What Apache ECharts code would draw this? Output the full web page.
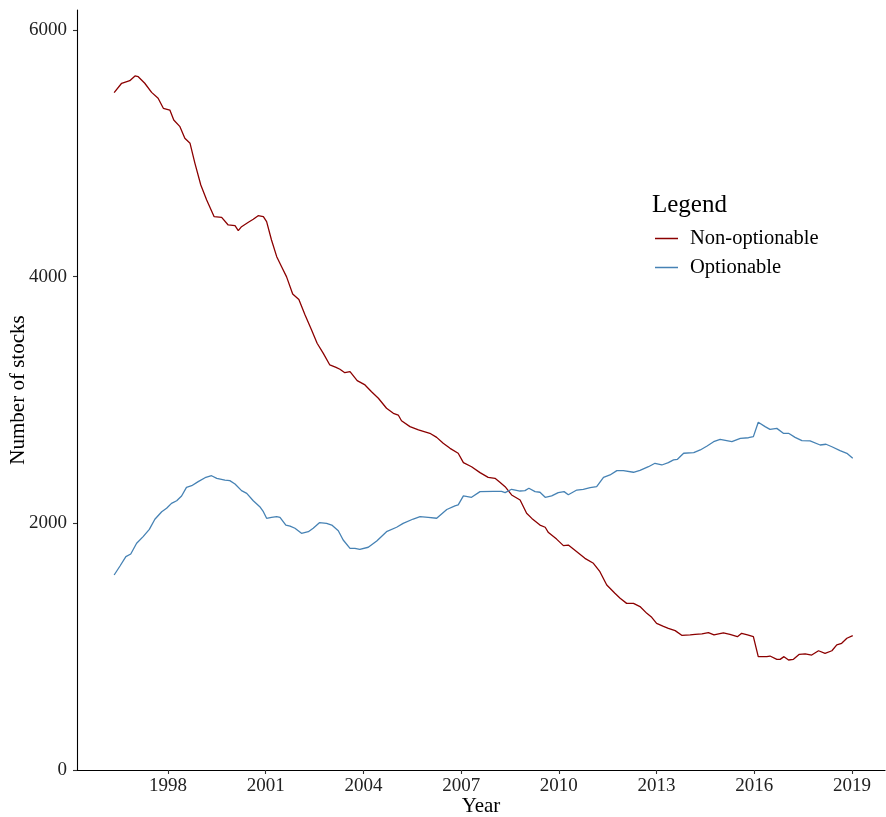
<!DOCTYPE html>
<html>
<head>
<meta charset="utf-8">
<script src="https://cdn.jsdelivr.net/npm/echarts@6/dist/echarts.min.js"></script>
<style>
  html, body { margin: 0; padding: 0; background: #fff; }
  #chart { width: 886px; height: 817px; }
</style>
</head>
<body>
<div id="chart"></div>
<script>
// Stock counts over time, split by whether the stock has listed options.
const nonOptYears = [
  1996.35, 1996.58, 1996.83, 1996.99, 1997.09, 1997.29, 1997.50, 1997.70, 1997.86, 1998.06,
  1998.18, 1998.37, 1998.52, 1998.68, 1998.83, 1999.01, 1999.19, 1999.42, 1999.65, 1999.85,
  2000.06, 2000.16, 2000.26, 2000.47, 2000.62, 2000.77, 2000.93, 2001.03, 2001.18, 2001.34,
  2001.49, 2001.64, 2001.83, 2002.02, 2002.21, 2002.41, 2002.58, 2002.77, 2002.97, 2003.16,
  2003.28, 2003.43, 2003.59, 2003.81, 2004.05, 2004.25, 2004.46, 2004.71, 2004.92, 2005.07,
  2005.17, 2005.43, 2005.69, 2006.04, 2006.25, 2006.45, 2006.66, 2006.91, 2007.07, 2007.32,
  2007.58, 2007.83, 2008.04, 2008.19, 2008.35, 2008.55, 2008.81, 2009.01, 2009.17, 2009.42,
  2009.58, 2009.68, 2009.93, 2010.14, 2010.29, 2010.57, 2010.80, 2011.06, 2011.26, 2011.47,
  2011.72, 2011.88, 2012.08, 2012.29, 2012.49, 2012.70, 2012.85, 2013.00, 2013.21, 2013.36,
  2013.57, 2013.77, 2014.03, 2014.18, 2014.39, 2014.59, 2014.76, 2015.05, 2015.25, 2015.48,
  2015.61, 2015.79, 2015.97, 2016.12, 2016.38, 2016.48, 2016.69, 2016.79, 2016.91, 2017.05,
  2017.20, 2017.38, 2017.56, 2017.76, 2017.97, 2018.17, 2018.38, 2018.53, 2018.68, 2018.84,
  2019.02
];
const nonOptValues = [
  5492, 5568, 5589, 5627, 5621, 5568, 5494, 5446, 5365, 5351,
  5270, 5216, 5122, 5081, 4919, 4743, 4622, 4486, 4481, 4419,
  4413, 4373, 4405, 4441, 4465, 4494, 4486, 4446, 4297, 4162,
  4081, 4000, 3860, 3815, 3689, 3568, 3460, 3378, 3284, 3265,
  3249, 3221, 3230, 3157, 3122, 3067, 3014, 2933, 2892, 2878,
  2832, 2784, 2757, 2730, 2697, 2649, 2608, 2568, 2492, 2459,
  2411, 2373, 2365, 2333, 2297, 2230, 2189, 2081, 2040, 1986,
  1968, 1925, 1872, 1819, 1824, 1765, 1716, 1676, 1608, 1500,
  1433, 1392, 1351, 1351, 1325, 1270, 1238, 1189, 1165, 1149,
  1130, 1092, 1095, 1100, 1103, 1113, 1095, 1111, 1100, 1081,
  1108, 1095, 1081, 919, 919, 924, 897, 897, 919, 892,
  897, 938, 941, 932, 967, 946, 967, 1014, 1027, 1068,
  1089
];

const optYears = [
  1996.35, 1996.53, 1996.71, 1996.86, 1997.04, 1997.24, 1997.43, 1997.60, 1997.81, 1997.96,
  1998.11, 1998.27, 1998.42, 1998.57, 1998.73, 1998.93, 1999.14, 1999.34, 1999.50, 1999.75,
  1999.90, 2000.06, 2000.26, 2000.42, 2000.62, 2000.82, 2000.93, 2001.03, 2001.18, 2001.34,
  2001.44, 2001.62, 2001.75, 2001.90, 2002.10, 2002.31, 2002.46, 2002.65, 2002.87, 2003.03,
  2003.23, 2003.38, 2003.59, 2003.74, 2003.89, 2004.15, 2004.41, 2004.71, 2005.02, 2005.22,
  2005.53, 2005.74, 2005.99, 2006.25, 2006.40, 2006.56, 2006.81, 2006.91, 2007.07, 2007.32,
  2007.58, 2007.99, 2008.24, 2008.35, 2008.55, 2008.81, 2008.96, 2009.08, 2009.27, 2009.42,
  2009.58, 2009.78, 2009.98, 2010.16, 2010.29, 2010.55, 2010.75, 2010.96, 2011.16, 2011.37,
  2011.57, 2011.78, 2011.98, 2012.29, 2012.49, 2012.75, 2012.95, 2013.16, 2013.36, 2013.52,
  2013.64, 2013.83, 2014.14, 2014.34, 2014.55, 2014.75, 2014.95, 2015.31, 2015.57, 2015.82,
  2015.97, 2016.12, 2016.33, 2016.48, 2016.69, 2016.89, 2017.05, 2017.25, 2017.46, 2017.71,
  2018.02, 2018.20, 2018.38, 2018.63, 2018.84, 2019.02
];
const optValues = [
  1581, 1654, 1730, 1751, 1838, 1892, 1951, 2033, 2094, 2122,
  2162, 2183, 2222, 2292, 2305, 2338, 2370, 2386, 2365, 2351,
  2346, 2319, 2265, 2243, 2183, 2135, 2094, 2041, 2049, 2054,
  2049, 1986, 1978, 1960, 1919, 1932, 1960, 2005, 2000, 1986,
  1940, 1865, 1797, 1797, 1789, 1806, 1857, 1932, 1968, 2000,
  2035, 2054, 2049, 2041, 2076, 2112, 2141, 2149, 2222, 2211,
  2257, 2259, 2259, 2249, 2276, 2262, 2265, 2284, 2257, 2252,
  2211, 2222, 2249, 2257, 2232, 2270, 2276, 2289, 2297, 2373,
  2392, 2427, 2427, 2414, 2430, 2459, 2487, 2473, 2492, 2514,
  2519, 2568, 2573, 2595, 2627, 2662, 2681, 2662, 2689, 2694,
  2703, 2819, 2784, 2762, 2770, 2730, 2730, 2697, 2670, 2668,
  2635, 2641, 2621, 2589, 2568, 2527
];

const yearTicks = [1998, 2001, 2004, 2007, 2010, 2013, 2016, 2019];
const countTicks = [0, 2000, 4000, 6000];
const seriesNames = ['Non-optionable', 'Optionable'];

const zip = (xs, ys) => xs.map((x, i) => [x, ys[i]]);

const FONT = 'Liberation Serif';
const chart = echarts.init(document.getElementById('chart'), null, { renderer: 'canvas' });

chart.setOption({
  animation: false,
  backgroundColor: '#ffffff',
  textStyle: { fontFamily: FONT },
  grid: { left: 77, right: 1, top: 10, bottom: 47, containLabel: false, outerBoundsMode: 'none' },
  title: {
    text: 'Legend',
    left: 647, top: 188,
    textStyle: { fontFamily: FONT, fontSize: 25, fontWeight: 'normal', color: '#000' }
  },
  legend: {
    data: seriesNames,
    orient: 'vertical',
    left: 650, top: 223,
    icon: 'rect',
    itemWidth: 23, itemHeight: 1.5,
    itemGap: 8,
    textStyle: { fontFamily: FONT, fontSize: 20.5, color: '#000', lineHeight: 20, padding: [0, 0, 0, 7] }
  },
  xAxis: {
    type: 'value',
    min: 1995.21, max: 2020.01,
    name: 'Year',
    nameLocation: 'middle',
    nameGap: 26,
    nameMoveOverlap: false,
    nameTextStyle: { fontFamily: FONT, fontSize: 21, color: '#000' },
    axisLine: { show: true, lineStyle: { color: '#000', width: 1.1 } },
    axisTick: { show: true, length: 4, customValues: yearTicks, lineStyle: { color: '#333', width: 1.1 } },
    axisLabel: { customValues: yearTicks, fontFamily: FONT, fontSize: 19, color: '#222', margin: 7,
                 formatter: v => String(v) },
    splitLine: { show: false }
  },
  yAxis: {
    type: 'value',
    min: 0, max: 6162,
    name: 'Number of stocks',
    nameLocation: 'middle',
    nameGap: 48,
    nameMoveOverlap: false,
    nameRotate: 90,
    nameTextStyle: { fontFamily: FONT, fontSize: 21, color: '#000' },
    axisLine: { show: true, lineStyle: { color: '#000', width: 1.1 } },
    axisTick: { show: true, length: 4, customValues: countTicks, lineStyle: { color: '#333', width: 1.1 } },
    axisLabel: { customValues: countTicks, fontFamily: FONT, fontSize: 19, color: '#222', margin: 10,
                 formatter: v => String(v) },
    splitLine: { show: false }
  },
  series: [
    {
      name: seriesNames[0],
      type: 'line',
      data: zip(nonOptYears, nonOptValues),
      showSymbol: false,
      color: '#8B0000',
      lineStyle: { color: '#8B0000', width: 1.3 }
    },
    {
      name: seriesNames[1],
      type: 'line',
      data: zip(optYears, optValues),
      showSymbol: false,
      color: '#4682B4',
      lineStyle: { color: '#4682B4', width: 1.3 }
    }
  ]
});
</script>
</body>
</html>
